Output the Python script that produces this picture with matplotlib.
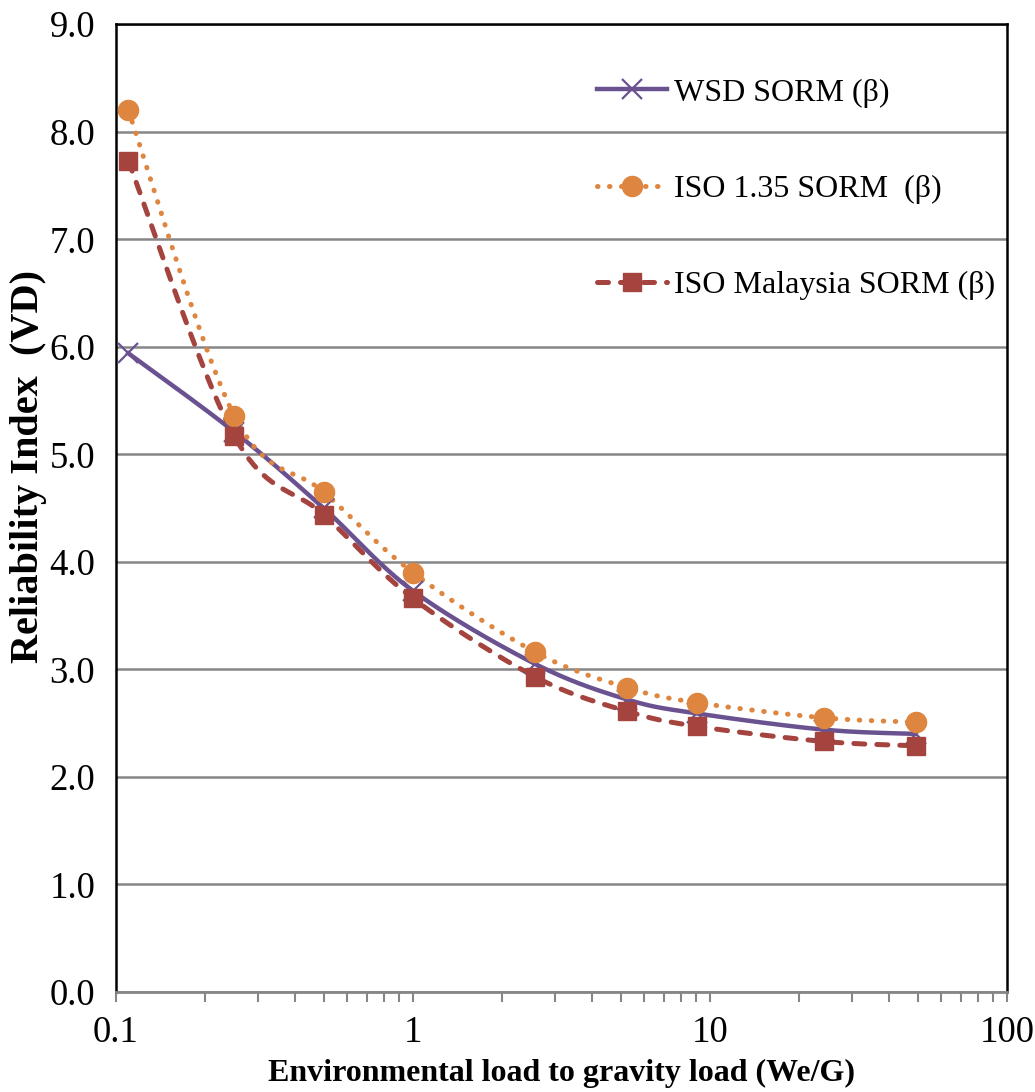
import matplotlib.pyplot as plt
import numpy as np

plt.rcParams['font.family'] = ['Liberation Serif', 'DejaVu Serif']

# load ratio We/G
ratio = [0.11, 0.25, 0.5, 1.0, 2.58, 5.26, 9.06, 24.1, 49.3]

wsd_sorm = [5.94, 5.21, 4.50, 3.73, 3.05, 2.72, 2.59, 2.44, 2.40]
iso135_sorm = [8.20, 5.36, 4.65, 3.90, 3.16, 2.83, 2.69, 2.55, 2.51]
iso_my_sorm = [7.73, 5.17, 4.44, 3.66, 2.93, 2.61, 2.47, 2.33, 2.29]

labels = ["WSD SORM (\u03b2)", "ISO 1.35 SORM  (\u03b2)", "ISO Malaysia SORM (\u03b2)"]
colors = ["#6A5290", "#DE8640", "#A5443F"]

fig = plt.figure(figsize=(10.35, 10.92), dpi=100)
ax = fig.add_axes([0.1121, 0.0916, 0.8609, 0.8862])
ax.set_xscale('log')
ax.set_xlim(0.1, 100)
ax.set_ylim(0, 9)

# plot box size in pixels, used for the spline so it bends like on screen
W = 0.8609 * 1035
H = 0.8862 * 1092


def smooth(x, y, n=40):
    # bezier smoothing through the points, tension like a spreadsheet chart
    u = (np.log10(x) + 1) / 3 * W
    v = np.asarray(y) / 9 * H
    pts = np.column_stack([u, v])
    m = len(pts)
    out = [pts[0]]
    t = np.linspace(0, 1, n)[1:, None]
    for i in range(m - 1):
        p0 = pts[max(i - 1, 0)]
        p1 = pts[i]
        p2 = pts[i + 1]
        p3 = pts[min(i + 2, m - 1)]
        c1 = p1 + (p2 - p0) / 6
        c2 = p2 - (p3 - p1) / 6
        seg = ((1 - t) ** 3 * p1 + 3 * (1 - t) ** 2 * t * c1
               + 3 * (1 - t) * t ** 2 * c2 + t ** 3 * p2)
        out.extend(seg)
    out = np.array(out)
    return 10 ** (out[:, 0] / W * 3 - 1), out[:, 1] / H * 9


series = [
    (wsd_sorm, dict(ls='-', lw=3.2), dict(marker='x', ms=14, mew=1.6)),
    (iso135_sorm, dict(ls=(0, (0.1, 2.3)), lw=3.6, dash_capstyle='round'), dict(marker='o', ms=14.5)),
    (iso_my_sorm, dict(ls=(0, (2.2, 2.4)), lw=3.6, dash_capstyle='round'), dict(marker='s', ms=13.5)),
]

for (vals, lstyle, mstyle), lab, c in zip(series, labels, colors):
    sx, sy = smooth(ratio, vals)
    ax.plot(sx, sy, color=c, zorder=3, **lstyle)
    ax.plot(ratio, vals, ls='none', color=c, zorder=4, **mstyle)
    ax.plot([], [], color=c, label=lab, **lstyle, **mstyle)

ax.yaxis.grid(True, color='#868686', lw=1.8)
ax.set_axisbelow(True)
ax.set_yticks(np.arange(0, 9.1, 1.0))
ax.set_yticklabels([f"{v:.1f}" for v in np.arange(0, 9.1, 1.0)])
ax.set_xticks([0.1, 1, 10, 100])
ax.set_xticklabels(["0.1", "1", "10", "100"])
ax.tick_params(axis='y', length=0, pad=15, labelsize=26.5)
ax.tick_params(axis='x', which='both', direction='out', color='#868686', width=1.5, labelsize=26.5, pad=10)
ax.tick_params(axis='x', which='major', length=7)
ax.tick_params(axis='x', which='minor', length=7)

for s in ['left', 'right', 'top']:
    ax.spines[s].set_color('black')
    ax.spines[s].set_linewidth(1.8)
ax.spines['bottom'].set_color('#868686')
ax.spines['bottom'].set_linewidth(2)

ax.set_xlabel("Environmental load to gravity load (We/G)", fontsize=23, fontweight='bold', labelpad=6)
ax.set_ylabel("Reliability Index  (VD)", fontsize=29, fontweight='bold')
ax.yaxis.set_label_coords(-0.078, 0.543)

ax.legend(loc='upper left', bbox_to_anchor=(0.507, 0.974), frameon=False, fontsize=23,
          handlelength=2.2, labelspacing=2.1, handletextpad=0.22, numpoints=1)

fig.savefig("out.png", dpi=100)
